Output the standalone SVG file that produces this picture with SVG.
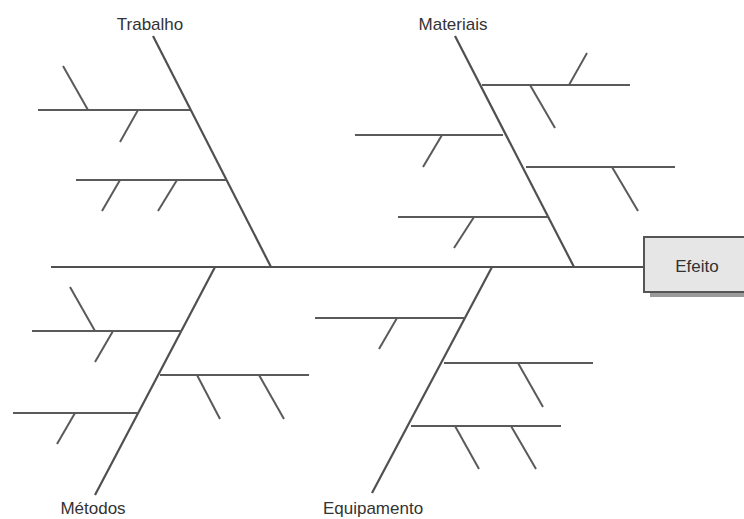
<svg xmlns="http://www.w3.org/2000/svg" width="744" height="519" viewBox="0 0 744 519">
<style>
.ln{stroke:#5a5a5a;stroke-width:2;stroke-linecap:butt;fill:none}
.sp{stroke:#505050;stroke-width:2.2;fill:none}
.t{font-family:"Liberation Sans",Arial,sans-serif;font-size:17px;fill:#333;text-anchor:middle}
</style>
<rect width="744" height="519" fill="#fff"/>
<g id="connectors">
<line class="sp" x1="51" y1="267" x2="644" y2="267"/>
<line class="sp" x1="153" y1="36" x2="271" y2="267"/>
<line class="sp" x1="455" y1="36" x2="574" y2="267"/>
<line class="sp" x1="215" y1="267" x2="95" y2="495"/>
<line class="sp" x1="492" y1="267" x2="372" y2="493"/>
</g>
<g id="trabalho">
<text class="t" x="150" y="30">Trabalho</text>
<line class="ln" x1="38" y1="110" x2="190" y2="110"/>
<line class="ln" x1="63" y1="66" x2="88" y2="110"/>
<line class="ln" x1="138" y1="110" x2="120" y2="142"/>
<line class="ln" x1="76" y1="180" x2="226" y2="180"/>
<line class="ln" x1="120" y1="180" x2="102" y2="211"/>
<line class="ln" x1="177" y1="180" x2="158" y2="211"/>
</g>
<g id="materiais">
<text class="t" x="453" y="30">Materiais</text>
<line class="ln" x1="482" y1="85" x2="630" y2="85"/>
<line class="ln" x1="587" y1="53" x2="569" y2="85"/>
<line class="ln" x1="530" y1="85" x2="555" y2="128"/>
<line class="ln" x1="355" y1="135" x2="503" y2="135"/>
<line class="ln" x1="442" y1="135" x2="423" y2="167"/>
<line class="ln" x1="526" y1="167" x2="675" y2="167"/>
<line class="ln" x1="612" y1="167" x2="638" y2="211"/>
<line class="ln" x1="398" y1="217" x2="548" y2="217"/>
<line class="ln" x1="474" y1="217" x2="454" y2="248"/>
</g>
<g id="metodos">
<text class="t" x="93" y="514">Métodos</text>
<line class="ln" x1="32" y1="331" x2="182" y2="331"/>
<line class="ln" x1="70" y1="287" x2="95" y2="331"/>
<line class="ln" x1="113" y1="331" x2="95" y2="362"/>
<line class="ln" x1="160" y1="375" x2="309" y2="375"/>
<line class="ln" x1="197" y1="375" x2="220" y2="419"/>
<line class="ln" x1="259" y1="375" x2="284" y2="419"/>
<line class="ln" x1="13" y1="413" x2="137" y2="413"/>
<line class="ln" x1="75" y1="413" x2="57" y2="444"/>
</g>
<g id="equipamento">
<text class="t" x="373" y="514">Equipamento</text>
<line class="ln" x1="315" y1="318" x2="465" y2="318"/>
<line class="ln" x1="397" y1="318" x2="379" y2="349"/>
<line class="ln" x1="444" y1="363" x2="593" y2="363"/>
<line class="ln" x1="518" y1="363" x2="543" y2="407"/>
<line class="ln" x1="411" y1="426" x2="561" y2="426"/>
<line class="ln" x1="455" y1="426" x2="479" y2="469"/>
<line class="ln" x1="511" y1="426" x2="536" y2="469"/>
</g>
<g id="efeito">
<rect x="650" y="240" width="100" height="57" fill="#9a9a9a"/>
<rect x="644" y="237" width="104" height="55" fill="#e6e6e6" stroke="#555" stroke-width="2"/>
<text class="t" x="697" y="272">Efeito</text>
</g>
</svg>
